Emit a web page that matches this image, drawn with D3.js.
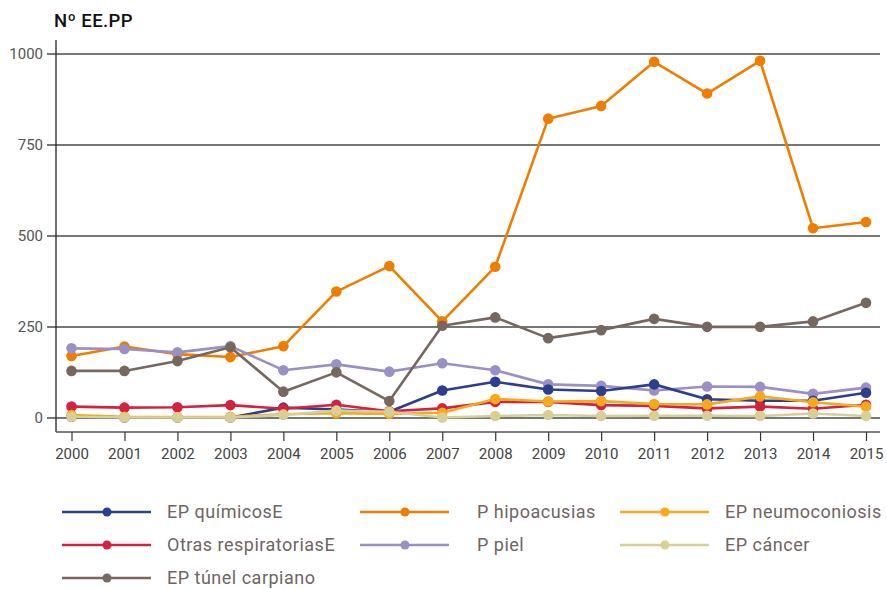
<!DOCTYPE html>
<html>
<head>
<meta charset="utf-8">
<script src="https://cdn.jsdelivr.net/npm/d3@7"></script>
<style>
  html, body { margin: 0; padding: 0; background: #fff; }
  svg { display: block; }
  text { font-family: Roboto, "Noto Sans", sans-serif; }
</style>
</head>
<body>
<svg id="chart" width="887" height="589"></svg>
<script>
// Years on the horizontal axis
const years = [2000, 2001, 2002, 2003, 2004, 2005, 2006, 2007, 2008, 2009, 2010, 2011, 2012, 2013, 2014, 2015];

// Number of occupational diseases per group
const quimicos      = [2, 0, 0, 0, 27, 22, 16, 74, 98, 77, 73, 91, 50, 46, 46, 68];
const hipoacusias   = [169, 195, 174, 166, 196, 346, 416, 264, 414, 821, 856, 977, 890, 980, 520, 537];
const neumoconiosis = [7, 2, 1, 2, 9, 12, 10, 13, 51, 44, 45, 37, 36, 58, 42, 30];
const respiratorias = [30, 27, 28, 34, 24, 35, 17, 25, 43, 43, 34, 32, 25, 30, 24, 35];
const piel          = [190, 188, 179, 196, 130, 146, 126, 149, 130, 91, 87, 74, 85, 84, 65, 82];
const cancer        = [2, 0, 0, 0, 7, 19, 16, 0, 4, 7, 4, 5, 5, 4, 11, 4];
const tunel         = [128, 128, 155, 193, 71, 124, 45, 252, 275, 218, 240, 271, 249, 249, 264, 315];

const yTicks = [0, 250, 500, 750, 1000];

// Series in drawing order (last on top) with legend placement
const series = [
  { name: "P hipoacusias",         values: hipoacusias,   color: "#ef7d00", col: 1, row: 0 },
  { name: "P piel",                values: piel,          color: "#9a8fc7", col: 1, row: 1 },
  { name: "EP túnel carpiano",     values: tunel,         color: "#76675f", col: 0, row: 2 },
  { name: "EP químicosE",          values: quimicos,      color: "#2c3f8c", col: 0, row: 0 },
  { name: "Otras respiratoriasE",  values: respiratorias, color: "#d4213f", col: 0, row: 1 },
  { name: "EP neumoconiosis",      values: neumoconiosis, color: "#f7a81b", col: 2, row: 0 },
  { name: "EP cáncer",             values: cancer,        color: "#d6d096", col: 2, row: 1 }
];

const svg = d3.select("#chart");

const plot = { left: 56, right: 880, top: 40, bottom: 432 };

const x = d3.scalePoint()
  .domain(years)
  .range([71.5, 866]);

const y = d3.scaleLinear()
  .domain([0, 1000])
  .range([417.5, 53.5]);

// Horizontal grid lines with left tick marks
const yAxis = d3.axisLeft(y)
  .tickValues(yTicks)
  .tickSize(-(plot.right - plot.left))
  .tickSizeOuter(0)
  .tickPadding(13)
  .tickFormat(d3.format("d"));

const gy = svg.append("g")
  .attr("transform", `translate(${plot.left},0)`)
  .call(yAxis);
gy.select(".domain").remove();
gy.selectAll(".tick line")
  .attr("x1", -9)
  .attr("stroke", "#777")
  .attr("stroke-width", 2);
gy.selectAll(".tick text")
  .attr("x", -13)
  .attr("fill", "#555")
  .style("font-size", "15px");

// Vertical axis line
svg.append("line")
  .attr("x1", plot.left).attr("x2", plot.left)
  .attr("y1", plot.top).attr("y2", plot.bottom)
  .attr("stroke", "#222").attr("stroke-width", 1.3);

// Bottom axis
const xAxis = d3.axisBottom(x)
  .tickSize(9)
  .tickSizeOuter(0)
  .tickPadding(7);

const gx = svg.append("g")
  .attr("transform", `translate(0,${plot.bottom})`)
  .call(xAxis);
gx.select(".domain")
  .attr("d", `M${plot.left},0H${plot.right}`)
  .attr("stroke", "#555")
  .attr("stroke-width", 1.3);
gx.selectAll(".tick line").attr("stroke", "#333").attr("stroke-width", 1.2);
gx.selectAll(".tick text")
  .attr("fill", "#444")
  .style("font-size", "15px");

// Title
svg.append("text")
  .attr("x", 54)
  .attr("y", 27)
  .attr("fill", "#111")
  .style("font-size", "18.5px")
  .style("font-weight", 500)
  .style("letter-spacing", "0.4px")
  .text("Nº EE.PP");

// Lines and markers
const line = d3.line()
  .x((d, i) => x(years[i]))
  .y(d => y(d));

const gs = svg.append("g");
series.forEach(s => {
  const g = gs.append("g");
  g.append("path")
    .datum(s.values)
    .attr("fill", "none")
    .attr("stroke", s.color)
    .attr("stroke-width", 2.6)
    .attr("stroke-linejoin", "round")
    .attr("d", line);
  g.selectAll("circle")
    .data(s.values)
    .join("circle")
    .attr("cx", (d, i) => x(years[i]))
    .attr("cy", d => y(d))
    .attr("r", 5.3)
    .attr("fill", s.color);
});

// Legend
const legendCols = [62, 360, 620];
const legendRows = [512, 545, 578];
const legend = svg.append("g");
series.forEach(s => {
  const lx = legendCols[s.col];
  const ly = legendRows[s.row];
  const g = legend.append("g").attr("transform", `translate(${lx},${ly})`);
  g.append("line")
    .attr("x1", 0).attr("x2", 89)
    .attr("y1", 0).attr("y2", 0)
    .attr("stroke", s.color)
    .attr("stroke-width", 2.6);
  g.append("circle")
    .attr("cx", 45).attr("cy", 0).attr("r", 4.5)
    .attr("fill", s.color);
  g.append("text")
    .attr("x", s.col === 1 ? 117 : 105)
    .attr("y", 0)
    .attr("dy", "0.35em")
    .attr("fill", "#6e6563")
    .style("font-size", "18px")
    .style("letter-spacing", "0.5px")
    .text(s.name);
});
</script>
</body>
</html>
